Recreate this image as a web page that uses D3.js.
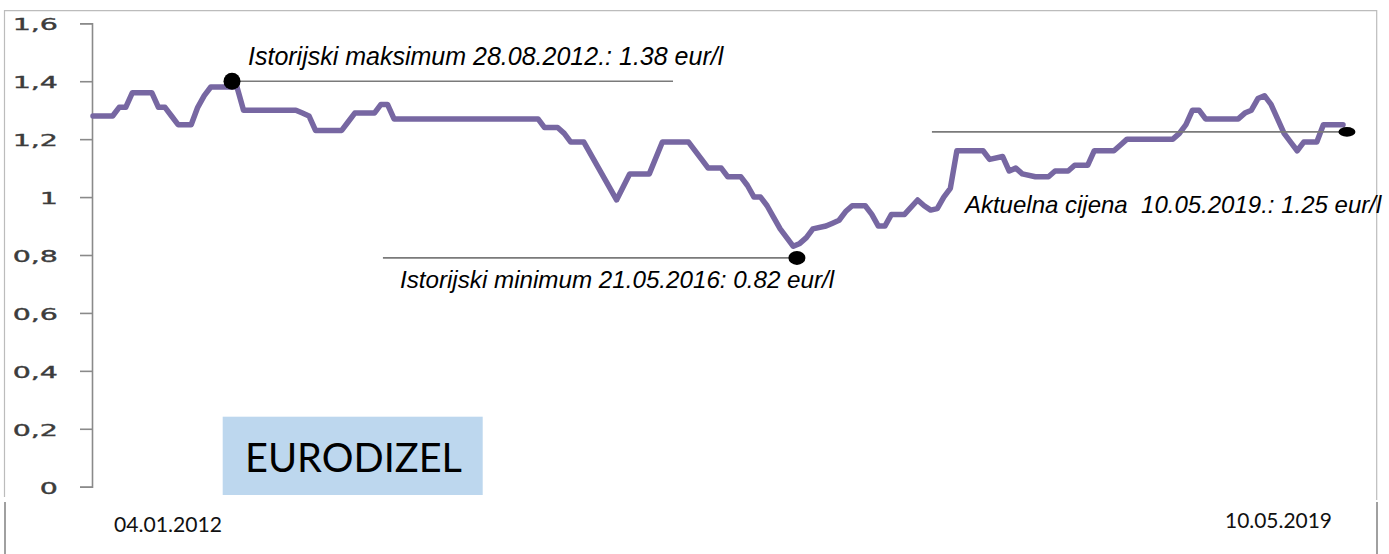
<!DOCTYPE html>
<html>
<head>
<meta charset="utf-8">
<script src="https://cdn.jsdelivr.net/npm/d3@7"></script>
<style>
  html, body { margin: 0; padding: 0; background: #fff; }
  svg { display: block; }
</style>
</head>
<body>
<svg id="chart" width="1389" height="554"></svg>
<script>
// ---- DATA ----
// period index (roughly fortnightly price periods, 04.01.2012 .. 10.05.2019)
const periods = [0,3,4,5,6,9,10,11,12,13,15,16,17,18,21,22,23,31,32,33,34,38,39,40,43,44,45,46,68,69,71,72,73,75,80,82,85,87,91,93,94,96,97,99,100,101,102,103,104,105,106,107,108,109,110,112,113,114,115,116,118,119,120,121,122,124,126,127,128,129,130,131,132,136,137,139,140,141,142,144,146,147,149,150,152,153,156,157,158,165,166,167,168,169,170,175,176,177,178,179,180,181,182,183,184,185,187,188,191];
// price, eur/l
const prices  = [1.28,1.28,1.31,1.31,1.36,1.36,1.31,1.31,1.28,1.25,1.25,1.31,1.35,1.38,1.38,1.38,1.30,1.30,1.29,1.28,1.23,1.23,1.26,1.29,1.29,1.32,1.32,1.27,1.27,1.24,1.24,1.22,1.19,1.19,0.99,1.08,1.08,1.19,1.19,1.13,1.10,1.10,1.07,1.07,1.04,1.00,1.00,0.97,0.93,0.89,0.86,0.83,0.84,0.86,0.89,0.90,0.91,0.92,0.95,0.97,0.97,0.94,0.90,0.90,0.94,0.94,0.99,0.97,0.955,0.96,1.00,1.03,1.16,1.16,1.13,1.14,1.09,1.10,1.08,1.07,1.07,1.09,1.09,1.11,1.11,1.16,1.16,1.18,1.20,1.20,1.22,1.25,1.30,1.30,1.27,1.27,1.29,1.30,1.34,1.35,1.32,1.27,1.22,1.19,1.16,1.19,1.19,1.25,1.25];
const lastPeriod = 191;

const yTickValues = [0,0.2,0.4,0.6,0.8,1,1.2,1.4,1.6];
const yTickLabels = ["0","0,2","0,4","0,6","0,8","1","1,2","1,4","1,6"];

const startDateLabel = "04.01.2012";
const endDateLabel = "10.05.2019";
const titleLabel = "EURODIZEL";

const annotPeriods = [21.24, 107.56, 191.6];
const annotValues  = [1.40, 0.79, 1.225];
const annotLabels  = [
  "Istorijski maksimum 28.08.2012.: 1.38 eur/l",
  "Istorijski minimum 21.05.2016: 0.82 eur/l",
  "Aktuelna cijena  10.05.2019.: 1.25 eur/l"
];

// ---- LAYOUT / STYLE ----
const annotStyle = [
  {lineDx: 441, textDx: 16, textDy: -16.7, rx: 8.5, ry: 8.5, fs: 25},
  {lineDx: -414, textDx: -397, textDy: 30, rx: 8.5, ry: 7, fs: 24.2},
  {lineDx: -415, textDx: -382, textDy: 81, rx: 8.5, ry: 4.8, fs: 24}
];

const svg = d3.select("#chart");

const x = d3.scaleLinear().domain([0, lastPeriod]).range([93, 1343]);
const y = d3.scaleLinear().domain([0, 1.6]).range([486.7, 23.3]);

// frame
const frame = svg.append("g").attr("fill", "none");
frame.append("path").attr("d", "M4.5,497 V10.7 H1376.7 V500")
  .attr("stroke", "#bcbcbc").attr("stroke-width", 1.2);
frame.append("line").attr("x1", 5).attr("x2", 5).attr("y1", 502).attr("y2", 554)
  .attr("stroke", "#a0a0a0").attr("stroke-width", 2);
frame.append("line").attr("x1", 1377).attr("x2", 1377).attr("y1", 502).attr("y2", 554)
  .attr("stroke", "#a0a0a0").attr("stroke-width", 2);

// y axis
const yAxis = d3.axisLeft(y)
  .tickValues(yTickValues)
  .tickFormat((d, i) => yTickLabels[i])
  .tickSize(12)
  .tickSizeOuter(12);

const ag = svg.append("g").attr("transform", "translate(92,0)").call(yAxis);
ag.select(".domain").attr("stroke", "#8a8a8a").attr("stroke-width", 1.6);
ag.selectAll(".tick line").attr("stroke", "#8a8a8a").attr("stroke-width", 1.6);
ag.selectAll(".tick text")
  .attr("x", 0)
  .attr("dy", "0.36em")
  .attr("transform", "translate(-34,1) scale(1.9,1)")
  .attr("fill", "#3c3c3c")
  .attr("stroke", "#3c3c3c")
  .attr("stroke-width", 0.35)
  .style("font-family", "'DejaVu Sans', Verdana, sans-serif")
  .style("font-size", "15px");

// price line
const pts = periods.map((p, i) => [p, prices[i]]);
const line = d3.line().x(d => x(d[0])).y(d => y(d[1]));
svg.append("path")
  .datum(pts)
  .attr("d", line)
  .attr("fill", "none")
  .attr("stroke", "#7767a2")
  .attr("stroke-width", 5.5)
  .attr("stroke-linejoin", "round")
  .attr("stroke-linecap", "round");

// annotations
annotPeriods.forEach((p, i) => {
  const cx = x(p), cy = y(annotValues[i]);
  const st = annotStyle[i];
  svg.append("line")
    .attr("x1", cx).attr("x2", cx + st.lineDx)
    .attr("y1", cy).attr("y2", cy)
    .attr("stroke", "#7a7a7a").attr("stroke-width", 1.6);
  svg.append("ellipse")
    .attr("cx", cx).attr("cy", cy)
    .attr("rx", st.rx).attr("ry", st.ry)
    .attr("fill", "#000");
  svg.append("text")
    .attr("x", cx + st.textDx).attr("y", cy + st.textDy)
    .attr("fill", "#000")
    .attr("xml:space", "preserve")
    .style("white-space", "pre")
    .style("font-family", "'Liberation Sans', Arial, sans-serif")
    .style("font-style", "italic")
    .style("font-size", st.fs + "px")
    .text(annotLabels[i]);
});

// title box
svg.append("rect")
  .attr("x", 222.7).attr("y", 416.7).attr("width", 260).attr("height", 78.3)
  .attr("fill", "#bdd7ee");
svg.append("text")
  .attr("x", 245).attr("y", 471.7)
  .attr("textLength", 217).attr("lengthAdjust", "spacingAndGlyphs")
  .attr("fill", "#000")
  .style("font-family", "Lato, 'Open Sans', sans-serif")
  .style("font-size", "40px")
  .text(titleLabel);

// date labels
svg.append("text")
  .attr("x", 114).attr("y", 531.7)
  .attr("textLength", 108).attr("lengthAdjust", "spacingAndGlyphs")
  .attr("fill", "#111")
  .style("font-family", "Lato, 'Open Sans', sans-serif")
  .style("font-size", "21px")
  .text(startDateLabel);
svg.append("text")
  .attr("x", 1225).attr("y", 527.7)
  .attr("textLength", 107).attr("lengthAdjust", "spacingAndGlyphs")
  .attr("fill", "#111")
  .style("font-family", "Lato, 'Open Sans', sans-serif")
  .style("font-size", "21px")
  .text(endDateLabel);
</script>
</body>
</html>
